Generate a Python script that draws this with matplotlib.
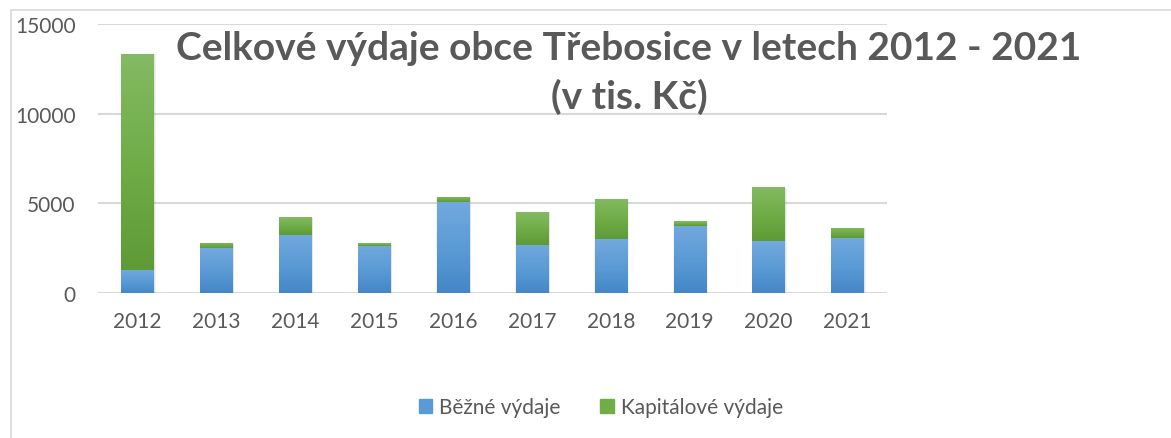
import numpy as np
import matplotlib.pyplot as plt
from matplotlib.patches import Rectangle
from matplotlib.colors import LinearSegmentedColormap

years = ['2012', '2013', '2014', '2015', '2016', '2017', '2018', '2019', '2020', '2021']
bezne = [1300, 2490, 3250, 2630, 5080, 2690, 3010, 3740, 2880, 3050]
kapitalove = [12020, 280, 980, 150, 300, 1840, 2250, 250, 3020, 580]

title = 'Celkové výdaje obce Třebosice v letech 2012 - 2021\n(v tis. Kč)'
labels = ['Běžné výdaje', 'Kapitálové výdaje']

blue_cmap = LinearSegmentedColormap.from_list('b', ['#4486C8', '#5B9BD5', '#72A9DE'])
green_cmap = LinearSegmentedColormap.from_list('g', ['#5E9A35', '#70AD47', '#84BA63'])

plt.rcParams['font.family'] = ['Lato', 'DejaVu Sans']

fig = plt.figure(figsize=(11.71, 4.39), dpi=100)
ax = fig.add_axes([98 / 1171, 1 - 294 / 439, (887 - 98) / 1171, (294 - 25) / 439])

# chart border
fig.patches.append(Rectangle((11 / 1171, -0.1), 1.2, 1 - 11 / 439 + 0.1,
                             transform=fig.transFigure, fill=False,
                             edgecolor='#D9D9D9', linewidth=1.2))

x = np.arange(len(years))
w = 0.41
grad = np.linspace(0, 1, 256).reshape(-1, 1)


def gradient_bars(bars, cmap):
    for b in bars:
        b.set_facecolor('none')
        b.set_edgecolor('none')
        x0, y0 = b.get_x(), b.get_y()
        im = ax.imshow(grad, cmap=cmap, aspect='auto', origin='lower',
                       extent=[x0, x0 + b.get_width(), y0, y0 + b.get_height()],
                       zorder=3)
        im.set_clip_path(b)


# soft shadow
for dx, a in [(0.03, 0.10), (0.015, 0.12)]:
    ax.bar(x + 0.01, np.array(bezne) + np.array(kapitalove) + 40, w + dx,
           bottom=-60, color='#808080', alpha=a, zorder=2, linewidth=0)

b1 = ax.bar(x, bezne, w, color='#5B9BD5', zorder=3, label=labels[0])
b2 = ax.bar(x, kapitalove, w, bottom=bezne, color='#70AD47', zorder=3, label=labels[1])
gradient_bars(b1, blue_cmap)
gradient_bars(b2, green_cmap)

ax.set_xlim(-0.5, len(years) - 0.5)
ax.set_ylim(0, 15000)
ax.set_yticks([0, 5000, 10000, 15000])
ax.set_xticks(x)
ax.set_xticklabels(years)
ax.yaxis.grid(True, color='#D9D9D9', linewidth=1.5, zorder=0)
ax.set_axisbelow(True)
for s in ax.spines.values():
    s.set_visible(False)
ax.tick_params(length=0, colors='#595959', labelsize=15)
ax.tick_params(axis='y', pad=16)
ax.tick_params(axis='x', pad=13)

fig.text(629 / 1171, 1 - 73 / 439, title, ha='center', va='center',
         fontsize=28, fontweight='bold', color='#595959', linespacing=1.45)

h1 = Rectangle((0, 0), 1, 1, color='#5B9BD5')
h2 = Rectangle((0, 0), 1, 1, color='#70AD47')
fig.legend([h1, h2], labels, loc='center', bbox_to_anchor=(601 / 1171, 1 - 408 / 439),
           ncol=2, frameon=False, fontsize=15, handlelength=0.65, handleheight=0.65,
           handletextpad=0.35, columnspacing=1.9, labelcolor='#595959')

fig.savefig('out.png', dpi=100)
